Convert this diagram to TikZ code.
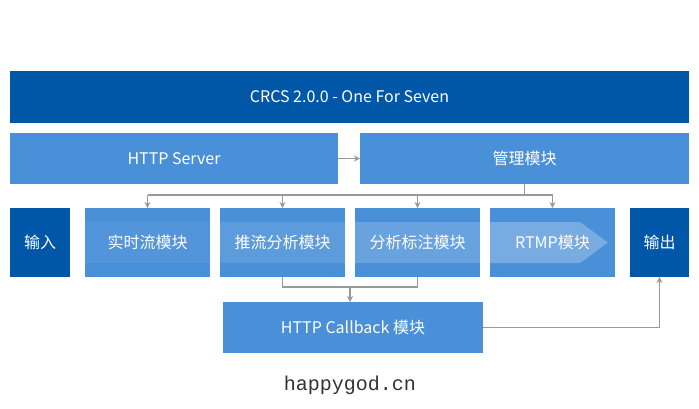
\documentclass[tikz,border=0pt]{standalone}
\usepackage{fontspec}
\setmainfont{Noto Sans CJK SC}
\newfontfamily\sitefont{Liberation Mono}
\usetikzlibrary{arrows.meta, calc}
\definecolor{darkblue}{HTML}{0057A8}
\definecolor{lightblue}{HTML}{4A90D9}
\definecolor{linegray}{HTML}{999999}
\tikzset{block/.style={fill=lightblue, text=white, inner sep=0pt, outer sep=0pt, anchor=north west, minimum height=51pt, font=\fontsize{16}{18}\selectfont}}
\tikzset{endblock/.style={block, fill=darkblue}}
\tikzset{wire/.style={draw=linegray, line width=1.6pt}}
\tikzset{link/.style={wire, -{Stealth[length=6pt, width=6pt]}}}

\begin{document}
\begin{tikzpicture}[x=1pt, y=-1pt]
    \useasboundingbox (0, 0) rectangle (699, 408);
    % top rows
    \node[endblock, minimum width=679pt, minimum height=52pt] (title) at (10, 71) {CRCS 2.0.0 - One For Seven};
    \node[block, minimum width=328pt] (server) at (10, 133) {HTTP Server};
    \node[block, minimum width=329pt] (manage) at (360, 133) {管理模块};
    % module row
    \node[endblock, minimum width=60pt, minimum height=69pt] (input) at (10, 208) {输入};
    \node[block, minimum width=125pt, minimum height=69pt] (live) at (85, 208) {实时流模块};
    \node[block, minimum width=125pt, minimum height=69pt] (push) at (220, 208) {推流分析模块};
    \node[block, minimum width=125pt, minimum height=69pt] (mark) at (355, 208) {分析标注模块};
    \node[block, minimum width=125pt, minimum height=69pt] (rtmp) at (490, 208) {RTMP模块};
    \node[endblock, minimum width=59pt, minimum height=69pt] (output) at (630, 208) {输出};
    \node[block, minimum width=260pt] (callback) at (223, 302) {HTTP Callback 模块};
    % light band through the modules
    \foreach \m/\op in {live/0.05, push/0.1, mark/0.17} {
        \fill[white, opacity=\op] ([yshift=20.5pt]\m.west) rectangle ([yshift=-20.5pt]\m.east);
    }
    \fill[white, opacity=0.25] ([yshift=20.5pt]rtmp.west) -- ([xshift=-35pt, yshift=20.5pt]rtmp.east)
        -- ([xshift=-7pt]rtmp.east) -- ([xshift=-35pt, yshift=-20.5pt]rtmp.east)
        -- ([yshift=-20.5pt]rtmp.west) -- cycle;
    % connectors
    \draw[link] (server.east) -- (manage.west);
    \draw[wire] (manage.south) -- ++(0, 11) coordinate (bus);
    \draw[wire] (live.north |- bus) -- (rtmp.north |- bus);
    \foreach \m in {live, push, mark, rtmp} {
        \draw[link] (\m.north |- bus) -- (\m.north);
    }
    \draw[wire] (push.south) -- ++(0, 10) coordinate (join) -| (mark.south);
    \draw[link] ($(join)!0.5!(mark.south |- join)$) -- ($(push.south)!0.5!(mark.south) + (0, 25)$);
    \draw[link] (callback.east) -| (output.south);
    \node[font=\sitefont\fontsize{20}{22}\selectfont, text=black!80] (site) at (350, 385) {happygod.cn};
\end{tikzpicture}
\end{document}
